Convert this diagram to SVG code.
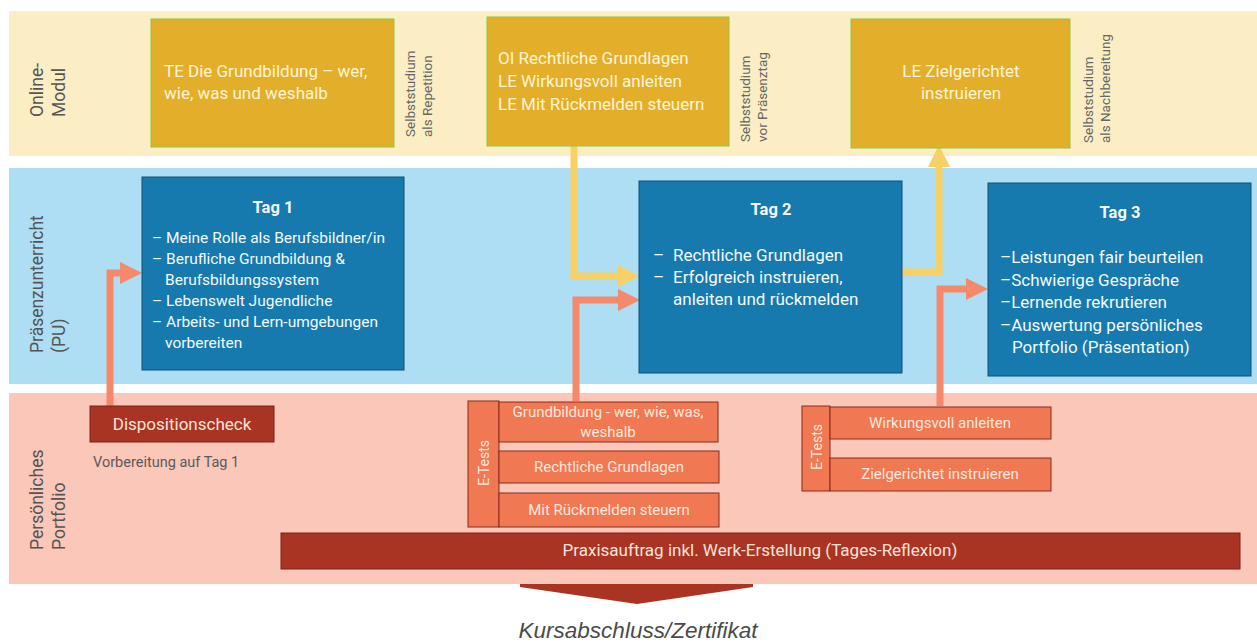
<svg xmlns="http://www.w3.org/2000/svg" width="1257" height="644" viewBox="0 0 1257 644">
<defs>
<style>
text{font-family:Roboto,"Liberation Sans",sans-serif}
.side{font-size:17.5px;fill:#555555}
.self{font-size:13.5px;fill:#666666}
.onl{fill:#E3AF2A;stroke:#8CC63E;stroke-width:1}
.onlt{font-size:17px;fill:#FFF4D6}
.tag{fill:#167AAE;stroke:#0E4F7A;stroke-width:1}
.tagh{font-size:16.5px;font-weight:bold;fill:#F4F9FC}
.tagt{font-size:17px;fill:#F4F9FC}
.dred{fill:#A93424;stroke:#7A2217;stroke-width:1}
.dredt{font-size:17px;fill:#FBE3DA}
.sal{fill:#F07953;stroke:#8A2A1C;stroke-width:1}
.salt{font-size:15px;fill:#FDE8DF}
.con{fill:none;stroke-width:7;stroke-linejoin:miter}
.or{stroke:#F4896B}
.ye{stroke:#F8D166}
</style>
<marker id="ahO" viewBox="0 0 22 22" refX="0" refY="11" markerWidth="22" markerHeight="22" markerUnits="userSpaceOnUse" orient="auto"><path d="M0,0 L22,11 L0,22 z" fill="#F4896B"/></marker>
<marker id="ahY" viewBox="0 0 22 22" refX="0" refY="11" markerWidth="22" markerHeight="22" markerUnits="userSpaceOnUse" orient="auto"><path d="M0,0 L22,11 L0,22 z" fill="#F8D166"/></marker>
</defs>
<rect width="1257" height="644" fill="#ffffff"/>

<g id="bands">
<rect x="9" y="11" width="1248" height="145" fill="#FBEEC4"/>
<rect x="9" y="168" width="1248" height="216" fill="#ADDEF4"/>
<rect x="9" y="393" width="1248" height="191" fill="#FAC7B9"/>
</g>

<g id="lane-labels">
<text class="side" transform="translate(43,117) rotate(-90)"><tspan x="0" y="0">Online-</tspan><tspan x="0" dy="22">Modul</tspan></text>
<text class="side" transform="translate(43,353) rotate(-90)"><tspan x="0" y="0">Präsenzunterricht</tspan><tspan x="0" dy="22">(PU)</tspan></text>
<text class="side" transform="translate(43,550) rotate(-90)"><tspan x="0" y="0">Persönliches</tspan><tspan x="0" dy="22">Portfolio</tspan></text>
</g>

<g id="selbst-labels">
<text class="self" transform="translate(415,137) rotate(-90)"><tspan x="0" y="0">Selbststudium</tspan><tspan x="0" dy="17">als Repetition</tspan></text>
<text class="self" transform="translate(750,142) rotate(-90)"><tspan x="0" y="0">Selbststudium</tspan><tspan x="0" dy="17">vor Präsenztag</tspan></text>
<text class="self" transform="translate(1093,143) rotate(-90)"><tspan x="0" y="0">Selbststudium</tspan><tspan x="0" dy="17">als Nachbereitung</tspan></text>
</g>

<g id="connectors">
<path class="con or" d="M110,406 V273 H120" marker-end="url(#ahO)"/>
<path class="con or" d="M576,401 V300 H618" marker-end="url(#ahO)"/>
<path class="con ye" d="M574,146 V276 H618" marker-end="url(#ahY)"/>
<path class="con ye" d="M902,272 H939 V167" marker-end="url(#ahY)"/>
<path class="con or" d="M940,406 V289 H966" marker-end="url(#ahO)"/>
<polygon points="520,584 753,584 753,587 637,604 520,587" fill="#A93424"/>
</g>

<g id="online-1">
<rect class="onl" x="151" y="19" width="243" height="128"/>
<text class="onlt"><tspan x="164" y="77">TE Die Grundbildung – wer,</tspan><tspan x="164" y="99">wie, was und weshalb</tspan></text>
</g>
<g id="online-2">
<rect class="onl" x="487" y="17" width="242" height="129"/>
<text class="onlt"><tspan x="498" y="64">OI Rechtliche Grundlagen</tspan><tspan x="498" y="87">LE Wirkungsvoll anleiten</tspan><tspan x="498" y="110">LE Mit Rückmelden steuern</tspan></text>
</g>
<g id="online-3">
<rect class="onl" x="851" y="19" width="219" height="129"/>
<text class="onlt" text-anchor="middle"><tspan x="961" y="77">LE Zielgerichtet</tspan><tspan x="961" y="99">instruieren</tspan></text>
</g>

<g id="tag-1">
<rect class="tag" x="142" y="177" width="262" height="193"/>
<text class="tagh" x="273" y="213" text-anchor="middle">Tag 1</text>
<text class="tagt" style="font-size:15.5px"><tspan x="152" y="243">– Meine Rolle als Berufsbildner/in</tspan><tspan x="152" y="264">– Berufliche Grundbildung &amp;</tspan><tspan x="165" y="285">Berufsbildungssystem</tspan><tspan x="152" y="306">– Lebenswelt Jugendliche</tspan><tspan x="152" y="327">– Arbeits- und Lern-umgebungen</tspan><tspan x="165" y="348">vorbereiten</tspan></text>
</g>
<g id="tag-2">
<rect class="tag" x="639" y="181" width="263" height="192"/>
<text class="tagh" x="771" y="215" text-anchor="middle">Tag 2</text>
<text class="tagt"><tspan x="653" y="261">–</tspan><tspan x="673" y="261">Rechtliche Grundlagen</tspan><tspan x="653" y="283">–</tspan><tspan x="673" y="283">Erfolgreich instruieren,</tspan><tspan x="673" y="305">anleiten und rückmelden</tspan></text>
</g>
<g id="tag-3">
<rect class="tag" x="988" y="183" width="263" height="193"/>
<text class="tagh" x="1120" y="218" text-anchor="middle">Tag 3</text>
<text class="tagt"><tspan x="1000" y="263">–Leistungen fair beurteilen</tspan><tspan x="1000" y="286">–Schwierige Gespräche</tspan><tspan x="1000" y="308">–Lernende rekrutieren</tspan><tspan x="1000" y="331">–Auswertung persönliches</tspan><tspan x="1012" y="353">Portfolio (Präsentation)</tspan></text>
</g>

<g id="dispositionscheck">
<rect class="dred" x="90" y="406" width="184" height="36"/>
<text class="dredt" x="182" y="430" text-anchor="middle">Dispositionscheck</text>
<text x="93" y="467" style="font-size:14.5px;fill:#5A5A5A">Vorbereitung auf Tag 1</text>
</g>

<g id="etests-1">
<rect class="sal" x="468" y="401" width="31" height="126"/>
<text class="salt" transform="translate(489,463) rotate(-90)" text-anchor="middle" style="font-size:14px">E-Tests</text>
<rect class="sal" x="499" y="402" width="219" height="40"/>
<text class="salt" text-anchor="middle"><tspan x="608" y="417">Grundbildung - wer, wie, was,</tspan><tspan x="608" y="437">weshalb</tspan></text>
<rect class="sal" x="499" y="451" width="220" height="32"/>
<text class="salt" x="609" y="472" text-anchor="middle">Rechtliche Grundlagen</text>
<rect class="sal" x="499" y="493" width="220" height="34"/>
<text class="salt" x="609" y="515" text-anchor="middle">Mit Rückmelden steuern</text>
</g>

<g id="etests-2">
<rect class="sal" x="802" y="406" width="28" height="85"/>
<text class="salt" transform="translate(822,447) rotate(-90)" text-anchor="middle" style="font-size:14px">E-Tests</text>
<rect class="sal" x="830" y="407" width="221" height="32"/>
<text class="salt" x="940" y="428" text-anchor="middle">Wirkungsvoll anleiten</text>
<rect class="sal" x="830" y="458" width="221" height="33"/>
<text class="salt" x="940" y="479" text-anchor="middle">Zielgerichtet instruieren</text>
</g>

<g id="praxisauftrag">
<rect class="dred" x="281" y="533" width="959" height="36"/>
<text class="dredt" x="760" y="556" text-anchor="middle">Praxisauftrag inkl. Werk-Erstellung (Tages-Reflexion)</text>
</g>

<g id="abschluss">
<text x="638" y="638" text-anchor="middle" style="font-family:'Liberation Sans',Arial,sans-serif;font-style:italic;font-size:22.5px;fill:#4A4A4A">Kursabschluss/Zertifikat</text>
</g>
</svg>
